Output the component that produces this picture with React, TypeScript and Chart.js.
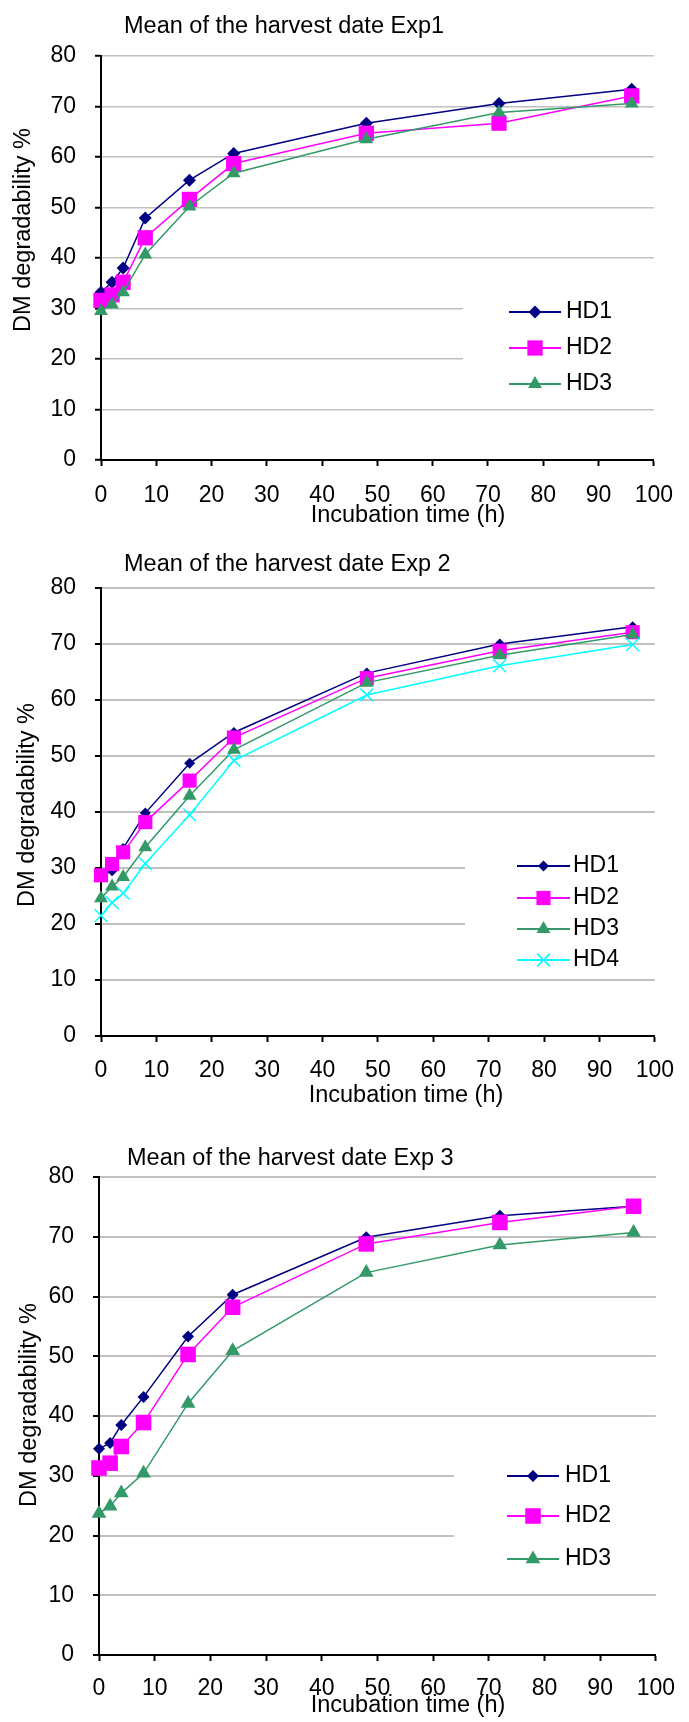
import React, { useEffect, useRef } from 'react';
import { Chart, registerables } from 'chart.js';

Chart.register(...registerables);

// ---------- data ----------
const incubationTimes = [0, 2, 4, 8, 16, 24, 48, 72, 96];
const seriesNames = ['HD1', 'HD2', 'HD3', 'HD4'];
const chartTitles = [
  'Mean of the harvest date Exp1',
  'Mean of the harvest date Exp 2',
  'Mean of the harvest date Exp 3',
];
const xAxisTitle = 'Incubation time (h)';
const yAxisTitle = 'DM degradability %';

const exp1HD1 = [33.2, 35.2, 38.0, 47.9, 55.4, 60.7, 66.7, 70.6, 73.4];
const exp1HD2 = [31.6, 32.7, 35.2, 44.0, 51.6, 58.7, 64.7, 66.7, 72.1];
const exp1HD3 = [29.5, 30.8, 33.2, 40.7, 50.2, 56.8, 63.5, 68.8, 70.6];

const exp2HD1 = [28.5, 29.5, 33.5, 39.8, 48.7, 54.2, 64.8, 70.0, 73.1];
const exp2HD2 = [28.7, 30.7, 32.8, 38.2, 45.6, 53.3, 63.9, 68.8, 72.1];
const exp2HD3 = [24.6, 26.7, 28.4, 33.7, 42.9, 51.1, 63.1, 68.0, 71.7];
const exp2HD4 = [21.5, 23.8, 25.5, 30.8, 39.5, 49.2, 60.9, 66.1, 69.9];

const exp3HD1 = [34.5, 35.5, 38.5, 43.2, 53.3, 60.3, 69.9, 73.5, 75.1];
const exp3HD2 = [31.3, 32.1, 34.9, 38.9, 50.3, 58.2, 68.8, 72.4, 75.1];
const exp3HD3 = [23.7, 24.9, 27.1, 30.4, 42.1, 50.9, 64.0, 68.6, 70.7];

const xMin = 0, xMax = 100, xStep = 10;
const yMin = 0, yMax = 80, yStep = 10;

// ---------- styles ----------
const FONT = "'Liberation Sans', Arial, sans-serif";
const seriesColors = ['#000080', '#FF00FF', '#339966', '#00FFFF'];
const seriesMarkers = ['rectRot', 'rect', 'triangle', 'crossRot'];
const X_AXIS_H = 60;

type PanelCfg = {
  title: string;
  series: number[][];
  height: number;
  plotTop: number;
  plotBottom: number;
  plotRight: number;
  yWidth: number;
  xPad: number;
  grid: number;
  radii: number[];
  titlePos: [number, number];
  yTitlePos: [number, number];
  xTitlePos: [number, number];
  legend: { box: [number, number, number, number]; x0: number; x1: number; tx: number; ys: number[] };
};

const panels: PanelCfg[] = [
  {
    title: chartTitles[0],
    series: [exp1HD1, exp1HD2, exp1HD3],
    height: 540,
    plotTop: 56,
    plotBottom: 460,
    plotRight: 654,
    yWidth: 101,
    xPad: 16,
    grid: 1.5,
    radii: [6.5, 10.8, 8],
    titlePos: [124, 27],
    yTitlePos: [24, 230],
    xTitlePos: [408, 516],
    legend: { box: [463, 276, 689, 402], x0: 509, x1: 561, tx: 566, ys: [312, 348, 384] },
  },
  {
    title: chartTitles[1],
    series: [exp2HD1, exp2HD2, exp2HD3, exp2HD4],
    height: 590,
    plotTop: 48,
    plotBottom: 496,
    plotRight: 665,
    yWidth: 101,
    xPad: 15,
    grid: 2,
    radii: [5.5, 10, 8, 9],
    titlePos: [124, 25],
    yTitlePos: [28, 265],
    xTitlePos: [406, 556],
    legend: { box: [465, 292, 689, 434], x0: 517, x1: 570, tx: 573, ys: [326, 358, 389, 420] },
  },
  {
    title: chartTitles[2],
    series: [exp3HD1, exp3HD2, exp3HD3],
    height: 592,
    plotTop: 47,
    plotBottom: 525,
    plotRight: 666,
    yWidth: 99,
    xPad: 14,
    grid: 2,
    radii: [6, 11, 8.5],
    titlePos: [127, 29],
    yTitlePos: [30, 275],
    xTitlePos: [408, 576],
    legend: { box: [454, 302, 689, 455], x0: 507, x1: 559, tx: 565, ys: [346, 386, 429] },
  },
];

function drawMarker(ctx: CanvasRenderingContext2D, style: string, x: number, y: number, r: number, color: string) {
  ctx.save();
  ctx.fillStyle = color;
  ctx.strokeStyle = color;
  ctx.beginPath();
  if (style === 'rectRot') {
    ctx.moveTo(x, y - r);
    ctx.lineTo(x + r, y);
    ctx.lineTo(x, y + r);
    ctx.lineTo(x - r, y);
    ctx.closePath();
    ctx.fill();
  } else if (style === 'rect') {
    const s = Math.SQRT1_2 * r;
    ctx.rect(x - s, y - s, 2 * s, 2 * s);
    ctx.fill();
  } else if (style === 'triangle') {
    ctx.moveTo(x, y - r);
    ctx.lineTo(x + 0.866 * r, y + 0.5 * r);
    ctx.lineTo(x - 0.866 * r, y + 0.5 * r);
    ctx.closePath();
    ctx.fill();
  } else {
    const d = Math.SQRT1_2 * r;
    ctx.lineWidth = 1.5;
    ctx.moveTo(x - d, y - d);
    ctx.lineTo(x + d, y + d);
    ctx.moveTo(x + d, y - d);
    ctx.lineTo(x - d, y + d);
    ctx.stroke();
  }
  ctx.restore();
}

function makeTextPlugin(cfg: PanelCfg) {
  return {
    id: 'panelText',
    beforeDatasetsDraw(chart: any) {
      const ctx: CanvasRenderingContext2D = chart.ctx;
      const [x0, y0, x1, y1] = cfg.legend.box;
      ctx.save();
      ctx.fillStyle = '#ffffff';
      ctx.fillRect(x0, y0, x1 - x0, y1 - y0);
      ctx.restore();
    },
    afterDraw(chart: any) {
      const ctx: CanvasRenderingContext2D = chart.ctx;
      ctx.save();
      ctx.fillStyle = '#000';
      ctx.textBaseline = 'middle';
      ctx.font = `23.5px ${FONT}`;
      ctx.textAlign = 'left';
      ctx.fillText(cfg.title, cfg.titlePos[0], cfg.titlePos[1]);
      ctx.textAlign = 'center';
      ctx.fillText(xAxisTitle, cfg.xTitlePos[0], cfg.xTitlePos[1]);
      ctx.save();
      ctx.translate(cfg.yTitlePos[0], cfg.yTitlePos[1]);
      ctx.rotate(-Math.PI / 2);
      ctx.fillText(yAxisTitle, 0, 0);
      ctx.restore();
      const lg = cfg.legend;
      chart.data.datasets.forEach((ds: any, i: number) => {
        const y = lg.ys[i];
        ctx.beginPath();
        ctx.strokeStyle = ds.borderColor;
        ctx.lineWidth = 2;
        ctx.moveTo(lg.x0, y);
        ctx.lineTo(lg.x1, y);
        ctx.stroke();
        drawMarker(ctx, ds.pointStyle, (lg.x0 + lg.x1) / 2, y, ds.pointRadius, ds.borderColor);
        ctx.fillStyle = '#000';
        ctx.font = `23px ${FONT}`;
        ctx.textAlign = 'left';
        ctx.fillText(ds.label, lg.tx, y);
      });
      ctx.restore();
    },
  };
}

function Panel({ cfg }: { cfg: PanelCfg }) {
  const ref = useRef<HTMLCanvasElement>(null);
  useEffect(() => {
    const canvas = ref.current;
    if (!canvas) return;
    const n = cfg.series.length;
    const datasets = cfg.series.map((vals, i) => ({
      label: seriesNames[i],
      data: incubationTimes.map((t, j) => ({ x: t, y: vals[j] })),
      borderColor: seriesColors[i],
      backgroundColor: seriesColors[i],
      borderWidth: 1.5,
      pointStyle: seriesMarkers[i],
      pointRadius: cfg.radii[i],
      pointBorderWidth: seriesMarkers[i] === 'crossRot' ? 1.5 : 0,
      pointBackgroundColor: seriesColors[i],
      pointBorderColor: seriesColors[i],
      tension: 0,
      order: n - i,
      clip: false as any,
    }));
    const tickFont = { family: FONT, size: 23 };
    const chart = new Chart(canvas, {
      type: 'line',
      data: { datasets },
      options: {
        responsive: false,
        animation: false,
        devicePixelRatio: 1,
        layout: {
          padding: {
            top: cfg.plotTop,
            right: 689 - cfg.plotRight,
            bottom: cfg.height - cfg.plotBottom - X_AXIS_H,
            left: 0,
          },
        },
        plugins: {
          legend: { display: false },
          title: { display: false },
          tooltip: { enabled: false },
        },
        scales: {
          x: {
            type: 'linear',
            min: xMin,
            max: xMax,
            ticks: { stepSize: xStep, maxRotation: 0, autoSkip: false, color: '#000', font: tickFont, padding: cfg.xPad },
            grid: { drawOnChartArea: false, drawTicks: true, tickLength: 6, tickColor: '#000', tickWidth: 2 },
            border: { color: '#000', width: 2 },
            afterFit: (s: any) => { s.height = X_AXIS_H; },
          },
          y: {
            type: 'linear',
            min: yMin,
            max: yMax,
            ticks: { stepSize: yStep, color: '#000', font: tickFont, padding: 19 },
            grid: { color: '#c0c0c0', lineWidth: cfg.grid, tickLength: 6, tickColor: '#000', tickWidth: 2 },
            border: { color: '#000', width: 2 },
            afterFit: (s: any) => { s.width = cfg.yWidth; },
          },
        },
      } as any,
      plugins: [makeTextPlugin(cfg) as any],
    });
    return () => chart.destroy();
  }, [cfg]);
  return (
    <canvas
      ref={ref}
      width={689}
      height={cfg.height}
      style={{ display: 'block', width: 689, height: cfg.height }}
    />
  );
}

export default function App() {
  return (
    <div style={{ position: 'absolute', left: 0, top: 0, width: 689, background: '#fff' }}>
      {panels.map((p, i) => (
        <Panel key={i} cfg={p} />
      ))}
    </div>
  );
}
